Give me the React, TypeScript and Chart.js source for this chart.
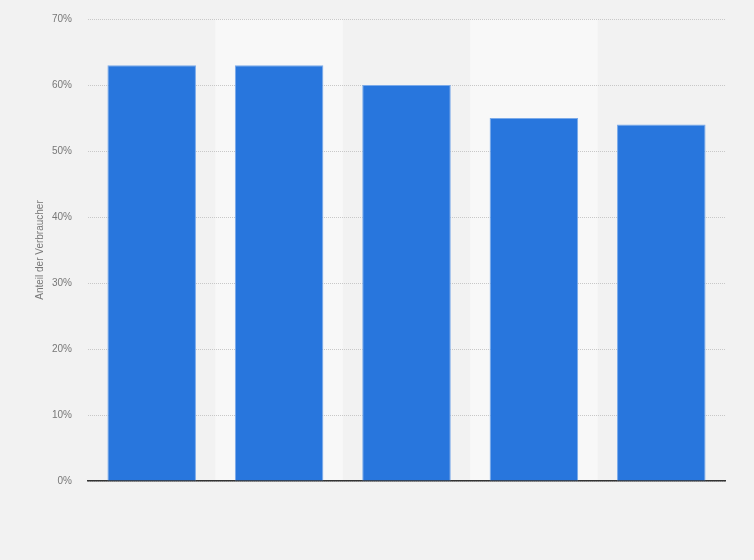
import { Chart, registerables } from "chart.js";
import { useEffect, useRef } from "react";

Chart.register(...registerables);

const categories = ["1", "2", "3", "4", "5"];
const shares = [63, 63, 60, 55, 54];
const yTicks = [0, 10, 20, 30, 40, 50, 60, 70];

const BG = "#f2f2f2";
const BAND = "#f8f8f8";

const bandPlugin = {
	id: "bands",
	beforeDraw(chart: any) {
		const { ctx, chartArea, scales } = chart;
		ctx.save();
		ctx.fillStyle = BG;
		ctx.fillRect(0, 0, chart.width, chart.height);
		const x = scales.x;
		const step = (chartArea.right - chartArea.left) / categories.length;
		ctx.fillStyle = BAND;
		categories.forEach((_, i) => {
			if (i % 2 === 1) {
				const cx = x.getPixelForValue(i);
				ctx.fillRect(cx - step / 2, chartArea.top, step, chartArea.bottom - chartArea.top);
			}
		});
		ctx.restore();
	},
};

const App = () => {
	const canvasRef = useRef<HTMLCanvasElement>(null);
	const chartRef = useRef<Chart | null>(null);

	useEffect(() => {
		document.body.style.margin = "0";
		if (canvasRef.current) {
			if (chartRef.current) chartRef.current.destroy();
			chartRef.current = new Chart(canvasRef.current, {
				type: "bar",
				data: {
					labels: categories,
					datasets: [
						{
							label: "Anteil der Verbraucher",
							data: shares,
							backgroundColor: "#2876dd",
							borderColor: "#7aaaea",
							borderWidth: 1,
							barPercentage: 0.695,
							categoryPercentage: 1,
						},
					],
				},
				options: {
					animation: false,
					responsive: true,
					maintainAspectRatio: false,
					layout: { padding: { top: 19, right: 29, bottom: 79, left: 0 } },
					plugins: {
						legend: { display: false },
						tooltip: {
							callbacks: { label: (item) => `${item.raw}%` },
						},
					},
					scales: {
						x: {
							grid: { display: false },
							ticks: { display: false },
							border: { display: true, color: "#333333", width: 1.5 },
							afterFit: (scale) => {
								scale.height = 0;
							},
						},
						y: {
							min: 0,
							max: 70,
							afterBuildTicks: (scale) => {
								scale.ticks = yTicks.map((v) => ({ value: v }));
							},
							ticks: {
								padding: 16,
								color: "#777777",
								font: { family: "Liberation Sans, Arial", size: 10 },
								callback: (v) => `${v}%`,
							},
							grid: { color: "#c8c8c8", drawTicks: false, lineWidth: 1 },
							border: { display: false, dash: [1, 1] },
							title: {
								display: true,
								text: "Anteil der Verbraucher",
								color: "#777777",
								font: { family: "Liberation Sans, Arial", size: 10 },
								padding: { top: 34, bottom: 0 },
							},
							afterFit: (scale: any) => {
								scale.width = 88;
								scale.paddingTop = 0;
								scale.paddingBottom = 0;
							},
						},
					},
				},
				plugins: [bandPlugin],
			});
		}
		return () => {
			chartRef.current?.destroy();
		};
	}, []);

	return (
		<div style={{ position: "fixed", left: 0, top: 0, width: 754, height: 560 }}>
			<canvas ref={canvasRef} />
		</div>
	);
};

export default App;
